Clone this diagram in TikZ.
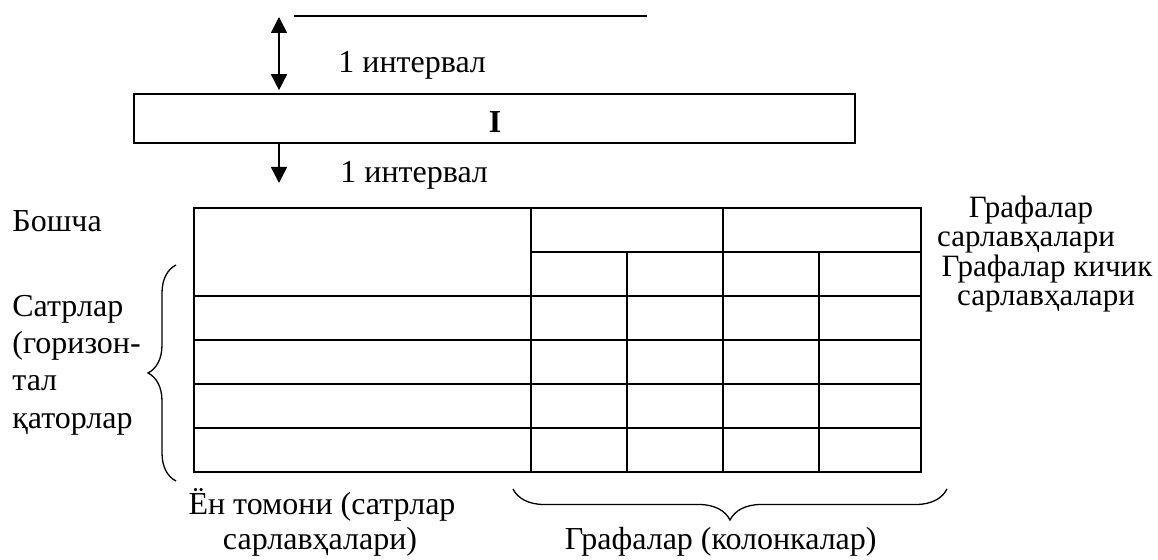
\documentclass[tikz,border=0pt]{standalone}
\usepackage{fontspec}
\setmainfont{Liberation Serif}
\usetikzlibrary{arrows.meta,decorations.pathreplacing}
\begin{document}
\begin{tikzpicture}[x=0.5pt,y=-0.5pt,
  lbl/.style={inner sep=0pt,font=\fontsize{16}{19}\selectfont},
  tight/.style={lbl,text height=10pt,text depth=3.2pt,font=\fontsize{15.5}{18}\selectfont},
  thin/.style={line width=0.8pt},
  grid/.style={line width=1pt},
  onetip/.style={thin,-{Triangle[width=8pt,length=8pt]}},
  twotip/.style={thin,{Triangle[width=8pt,length=8pt]}-{Triangle[width=8pt,length=8pt]}},
  brc/.style={line width=0.65pt,decorate,decoration={brace,amplitude=#1}}]
\useasboundingbox (0,0) rectangle (1158,560);
% top rule
\coordinate (tl1) at (294,16);
\coordinate (tl2) at (647,16);
\draw[thin] (tl1) -- (tl2);
% title box
\node[draw,thin,minimum width=360.5pt,minimum height=24.5pt,inner sep=0pt] (box) at (494.5,118.5) {};
\node[lbl,anchor=base,font=\fontsize{16}{19}\selectfont\bfseries] (boxI) at (495,133) {I};
% arrows
\coordinate (up) at (279,17);
\coordinate (dn) at (279,183);
\draw[twotip,shorten >=1.5pt] (up) -- (up |- box.north);
\draw[onetip] (dn |- box.south) -- (dn);
\node[lbl,anchor=base west] (int1) at (338,73) {1 интервал};
\node[lbl,anchor=base west] (int2) at (340,183) {1 интервал};
% table
\draw[grid] (194,208) rectangle (921,472);
\draw[grid] (531,252) -- (921,252);
\foreach \yy in {296,340,384,428} \draw[grid] (194,\yy) -- (921,\yy);
\foreach \xx in {531,723} \draw[grid] (\xx,208) -- (\xx,472);
\foreach \xx in {627,819} \draw[grid] (\xx,252) -- (\xx,472);
% left labels
\node[lbl,anchor=base west] (boshcha) at (12,232) {Бошча};
\node[lbl,anchor=base west] (s1) at (12,317) {Сатрлар};
\node[lbl,anchor=base west] (s2) at (12,354) {(горизон-};
\node[lbl,anchor=base west] (s3) at (12,391) {тал};
\node[lbl,anchor=base west] (s4) at (12,429) {қаторлар};
% left brace
\coordinate (lb1) at (176,481);
\coordinate (lb2) at (176,265);
\draw[brc=14pt] (lb1) -- (lb2);
% right labels
\node[tight,anchor=base] (g1) at (1031,218) {Графалар};
\node[tight,anchor=base] (g2) at (1026,247) {сарлавҳалари};
\node[tight,anchor=base] (g3) at (1047,277) {Графалар кичик};
\node[tight,anchor=base] (g4) at (1046,306) {сарлавҳалари};
% bottom labels
\node[lbl,anchor=base] (en1) at (322,515) {Ён томони (сатрлар};
\node[lbl,anchor=base] (en2) at (320,550) {сарлавҳалари)};
\node[lbl,anchor=base east] (kol) at (877,550) {Графалар (колонкалар)};
% bottom brace
\coordinate (bb1) at (947,489);
\coordinate (bb2) at (513,489);
\draw[brc=15.5pt] (bb1) -- (bb2);
\end{tikzpicture}
\end{document}
